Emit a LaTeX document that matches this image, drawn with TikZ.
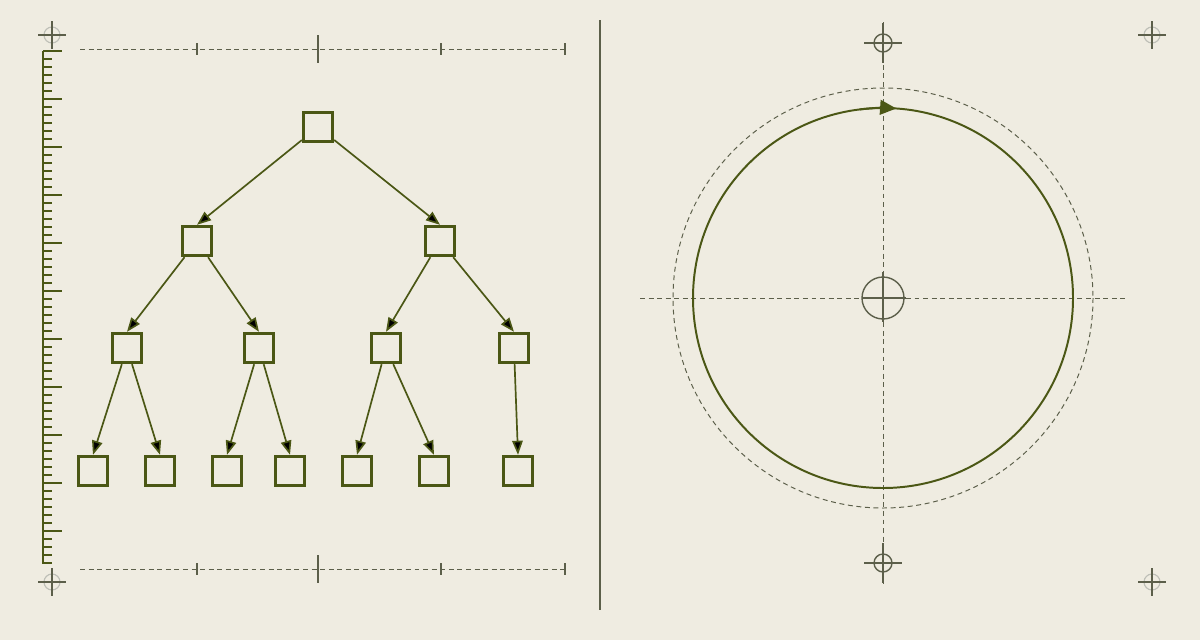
\documentclass[tikz,border=0pt]{standalone}
\usepackage{tikz}
\usetikzlibrary{arrows.meta}

\definecolor{paper}{HTML}{EFECE1}
\definecolor{ink}{HTML}{4B5715}
\definecolor{guide}{HTML}{5C5F4A}

\begin{document}
\begin{tikzpicture}[x=0.025cm,y=-0.025cm,
  box/.style={draw=ink,line width=2pt,minimum size=0.74cm,inner sep=0pt},
  link/.style={draw=ink,line width=1.2pt,-{Triangle[length=10pt,width=7.5pt]}},
  ruler/.style={draw=ink,line width=1.2pt},
  guideline/.style={draw=guide,line width=0.7pt,dash pattern=on 3.5pt off 2.6pt},
  cross/.style={draw=guide,line width=1pt}]

\fill[paper] (0,0) rectangle (1200,640);
\useasboundingbox (0,0) rectangle (1200,640);

% corner marks
\foreach \x/\y in {52/35,52/582,1152/35,1152/582}{
  \draw[guide!40,line width=0.8pt] (\x,\y) circle (8);
  \draw[cross] (\x-14,\y) -- (\x+14,\y) (\x,\y-14) -- (\x,\y+14);
}

% ruler
\draw[ruler] (43,51) -- (43,564);
\foreach \i in {0,...,64}{
  \pgfmathtruncatemacro\r{mod(\i,6)}
  \ifnum\r=0 \draw[ruler] (43,51+8*\i) -- ++(19,0);
  \else \draw[ruler] (43,51+8*\i) -- ++(9,0); \fi
}

% dimension lines
\foreach \y in {49,569}{
  \draw[guideline] (80,\y) -- (565,\y);
  \draw[cross] (318,\y-14) -- (318,\y+14);
  \foreach \x in {197,441,565} \draw[cross] (\x,\y-6) -- (\x,\y+6);
}

% divider
\draw[guide,line width=1.2pt] (600,20) -- (600,610);

% tree
\node[box] (1) at (318,127) {};
\node[box] (2) at (197,241) {};
\node[box] (3) at (440,241) {};
\node[box] (4) at (127,348) {};
\node[box] (5) at (259,348) {};
\node[box] (6) at (386,348) {};
\node[box] (7) at (514,348) {};
\node[box] (8) at (93,471) {};
\node[box] (9) at (160,471) {};
\node[box] (10) at (227,471) {};
\node[box] (11) at (290,471) {};
\node[box] (12) at (357,471) {};
\node[box] (13) at (434,471) {};
\node[box] (14) at (518,471) {};

\path[link]
(1) edge (2.north)
    edge (3.north)
(2) edge (4.north)
    edge (5.north)
(3) edge (6.north)
    edge (7.north)
(4) edge (8.north)
    edge (9.north)
(5) edge (10.north)
    edge (11.north)
(6) edge (12.north)
    edge (13.north)
(7) edge (14.north)
;

% orbit
\coordinate (c) at (883,298);
\draw[guideline] (c) circle (210);
\draw[guideline] (640,298) -- (1127,298);
\draw[guideline] (883,22) -- (883,585);
\draw[ink,line width=1.4pt] (c) circle (190);
\draw[ink,line width=1.4pt,-{Triangle[length=11.5pt,width=10.5pt]}] (c) ++(-97:190) arc (-97:-86:190);
\draw[guide,line width=1pt] (c) circle (21);
\draw[cross] (862,298) -- (906,298) (883,272) -- (883,322);
\foreach \y in {43,563}{
  \draw[cross] (883,\y) circle (9);
  \draw[cross] (864,\y) -- (902,\y) (883,\y-20) -- (883,\y+20);
}
\end{tikzpicture}
\end{document}
